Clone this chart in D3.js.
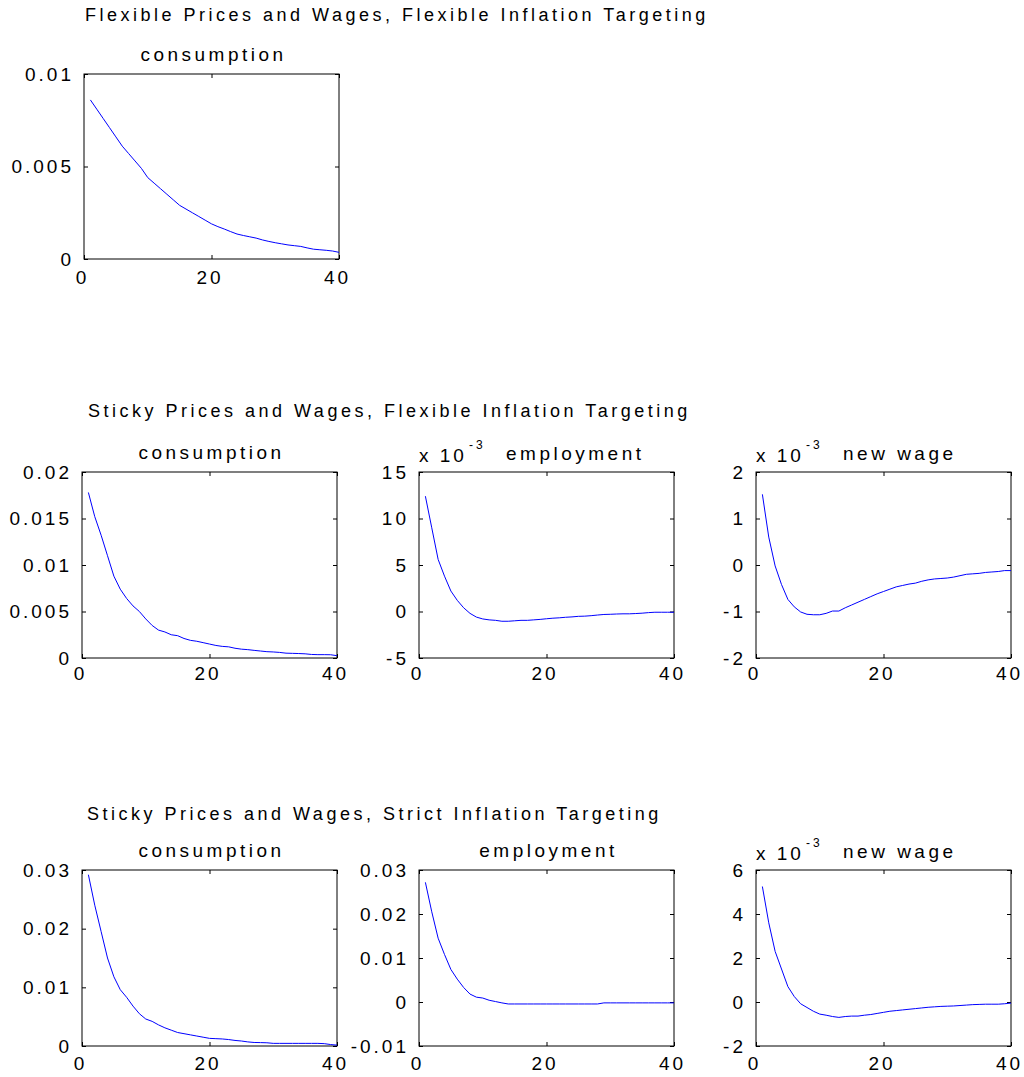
<!DOCTYPE html>
<html>
<head>
<meta charset="utf-8">
<script src="https://cdn.jsdelivr.net/npm/d3@7"></script>
<style>
body { margin: 0; background: #fff; }
text { font-family: "Liberation Sans", Arial, sans-serif; fill: #000; }
</style>
</head>
<body>
<div class="holder"></div>
<script>
// all series in units of 1e-3, periods 1..40
var flexConsumption = [8.6, 8.1, 7.6, 7.1, 6.6, 6.1, 5.7, 5.3, 4.9, 4.4,
    4.1, 3.8, 3.5, 3.2, 2.9, 2.7, 2.5, 2.3, 2.1, 1.9,
    1.75, 1.62, 1.48, 1.35, 1.27, 1.2, 1.13, 1.03, 0.95, 0.88,
    0.82, 0.76, 0.72, 0.68, 0.6, 0.53, 0.5, 0.47, 0.43, 0.36]

var stickyConsumption = [17.8, 15.2, 13.2, 11.0, 8.8, 7.4, 6.4, 5.6, 5.0, 4.2,
    3.5, 3.0, 2.8, 2.5, 2.4, 2.1, 1.9, 1.8, 1.65, 1.5,
    1.35, 1.25, 1.2, 1.05, 0.95, 0.9, 0.82, 0.75, 0.68, 0.65,
    0.6, 0.52, 0.5, 0.48, 0.45, 0.38, 0.36, 0.36, 0.35, 0.25]

var stickyEmployment = [12.4, 9.0, 5.6, 3.8, 2.2, 1.2, 0.4, -0.2, -0.6, -0.8,
    -0.9, -0.95, -1.05, -1.05, -1.0, -0.95, -0.95, -0.9, -0.85, -0.78,
    -0.72, -0.68, -0.62, -0.58, -0.52, -0.5, -0.45, -0.38, -0.32, -0.3,
    -0.27, -0.25, -0.25, -0.22, -0.18, -0.12, -0.08, -0.08, -0.08, -0.08]

var stickyWage = [1.52, 0.6, -0.02, -0.42, -0.74, -0.9, -1.01, -1.06, -1.07, -1.07,
    -1.04, -0.99, -0.99, -0.92, -0.86, -0.8, -0.74, -0.68, -0.62, -0.57,
    -0.52, -0.47, -0.44, -0.41, -0.39, -0.35, -0.32, -0.3, -0.29, -0.28,
    -0.26, -0.23, -0.2, -0.19, -0.18, -0.16, -0.15, -0.14, -0.12, -0.12]

var strictConsumption = [29.2, 24.0, 19.5, 15.0, 11.8, 9.6, 8.3, 6.8, 5.5, 4.6,
    4.2, 3.6, 3.1, 2.7, 2.3, 2.1, 1.9, 1.7, 1.5, 1.3,
    1.25, 1.2, 1.1, 0.95, 0.85, 0.7, 0.6, 0.58, 0.55, 0.45,
    0.45, 0.45, 0.45, 0.45, 0.45, 0.45, 0.45, 0.4, 0.25, 0.15]

var strictEmployment = [27.2, 20.5, 14.5, 10.8, 7.4, 5.2, 3.3, 1.8, 1.1, 0.9,
    0.4, 0.1, -0.2, -0.45, -0.45, -0.45, -0.45, -0.45, -0.45, -0.45,
    -0.45, -0.45, -0.45, -0.45, -0.45, -0.45, -0.45, -0.45, -0.2, -0.2,
    -0.2, -0.2, -0.2, -0.2, -0.2, -0.2, -0.2, -0.2, -0.2, -0.2]

var strictWage = [5.25, 3.6, 2.3, 1.5, 0.7, 0.25, -0.08, -0.25, -0.42, -0.55,
    -0.6, -0.66, -0.7, -0.66, -0.64, -0.64, -0.6, -0.57, -0.52, -0.47,
    -0.42, -0.39, -0.36, -0.33, -0.3, -0.27, -0.24, -0.22, -0.2, -0.19,
    -0.18, -0.16, -0.14, -0.12, -0.11, -0.1, -0.1, -0.1, -0.08, -0.05]

var xTicks = [0, 20, 40]
var xTickLabels = ["0", "20", "40"]

var flexConsTicks = [0, 5, 10]
var flexConsLabels = ["0", "0.005", "0.01"]
var stickyConsTicks = [0, 5, 10, 15, 20]
var stickyConsLabels = ["0", "0.005", "0.01", "0.015", "0.02"]
var stickyEmpTicks = [-5, 0, 5, 10, 15]
var stickyEmpLabels = ["-5", "0", "5", "10", "15"]
var stickyWageTicks = [-2, -1, 0, 1, 2]
var stickyWageLabels = ["-2", "-1", "0", "1", "2"]
var strictConsTicks = [0, 10, 20, 30]
var strictConsLabels = ["0", "0.01", "0.02", "0.03"]
var strictEmpTicks = [-10, 0, 10, 20, 30]
var strictEmpLabels = ["-0.01", "0", "0.01", "0.02", "0.03"]
var strictWageTicks = [-2, 0, 2, 4, 6]
var strictWageLabels = ["-2", "0", "2", "4", "6"]

var rowTitles = [
    "Flexible Prices and Wages, Flexible Inflation Targeting",
    "Sticky Prices and Wages, Flexible Inflation Targeting",
    "Sticky Prices and Wages, Strict Inflation Targeting"
]

var width = 1024,
    height = 1077,
    ls = 3   // letter spacing of tick labels
var cols = [82, 419, 756]

var svg = d3.select(".holder").append("svg")
    .attr("width", width)
    .attr("height", height)

// row supertitles
var rowTitlePos = [[85, 21], [88, 417], [87, 820]]
rowTitles.forEach(function(t, i) {
    svg.append("text")
        .attr("x", rowTitlePos[i][0])
        .attr("y", rowTitlePos[i][1])
        .style("font-size", "18px")
        .style("letter-spacing", "3.5px")
        .text(t)
})

var panels = [
    {x: 84, y: 74, h: 185, pad: 12, title: "consumption", data: flexConsumption, ticks: flexConsTicks, labels: flexConsLabels},
    {x: cols[0], y: 472, h: 186, pad: 9, title: "consumption", data: stickyConsumption, ticks: stickyConsTicks, labels: stickyConsLabels},
    {x: cols[1], y: 472, h: 186, pad: 9, title: "employment", data: stickyEmployment, ticks: stickyEmpTicks, labels: stickyEmpLabels, exp: true},
    {x: cols[2], y: 472, h: 186, pad: 9, title: "new wage", data: stickyWage, ticks: stickyWageTicks, labels: stickyWageLabels, exp: true},
    {x: cols[0], y: 870, h: 176, pad: 11, title: "consumption", data: strictConsumption, ticks: strictConsTicks, labels: strictConsLabels},
    {x: cols[1], y: 870, h: 176, pad: 11, title: "employment", data: strictEmployment, ticks: strictEmpTicks, labels: strictEmpLabels},
    {x: cols[2], y: 870, h: 176, pad: 11, title: "new wage", data: strictWage, ticks: strictWageTicks, labels: strictWageLabels, exp: true}
]

var w = 255

panels.forEach(function(p) {
    var g = svg.append("g").attr("transform", "translate(" + p.x + "," + p.y + ")")

    var x = d3.scaleLinear().domain([0, 40]).range([0, w])
    var y = d3.scaleLinear().domain([p.ticks[0], p.ticks[p.ticks.length - 1]]).range([p.h, 0])

    // inward ticks on all four sides, like matlab
    var bottom = g.append("g").attr("transform", "translate(0," + p.h + ")")
        .call(d3.axisBottom(x).tickValues(xTicks).tickSize(-4).tickSizeOuter(0).tickPadding(p.pad)
            .tickFormat(function(d, i) { return xTickLabels[i] }))
    g.append("g")
        .call(d3.axisTop(x).tickValues(xTicks).tickSize(-4).tickSizeOuter(0).tickFormat(""))
    g.append("g")
        .call(d3.axisLeft(y).tickValues(p.ticks).tickSize(-4).tickSizeOuter(0).tickPadding(10)
            .tickFormat(function(d, i) { return p.labels[i] }))
    g.append("g").attr("transform", "translate(" + w + ",0)")
        .call(d3.axisRight(y).tickValues(p.ticks).tickSize(-4).tickSizeOuter(0).tickFormat(""))

    g.selectAll(".domain").remove()
    g.selectAll(".tick line").attr("stroke", "#000")
    g.selectAll(".tick text")
        .attr("fill", "#000")
        .style("font-family", '"Liberation Sans", Arial, sans-serif')
        .style("font-size", "19px")
        .style("letter-spacing", ls + "px")
    bottom.selectAll(".tick text").attr("dx", -2)

    g.append("rect")
        .attr("width", w)
        .attr("height", p.h)
        .attr("fill", "none")
        .attr("stroke", "#000")
        .attr("stroke-width", 1)

    var line = d3.line()
        .x(function(d, i) { return x(i + 1) })
        .y(function(d) { return y(d) })

    g.append("path")
        .datum(p.data)
        .attr("d", line)
        .attr("fill", "none")
        .attr("stroke", "#0000ff")
        .attr("stroke-width", 1)

    if (p.exp) {
        var e = g.append("text")
            .attr("x", 0)
            .attr("y", -10)
            .style("font-size", "19px")
            .style("letter-spacing", "3px")
        e.append("tspan").text("x 10")
        e.append("tspan")
            .attr("dx", 2)
            .attr("dy", -13)
            .style("font-size", "12px")
            .text("-3")
        g.append("text")
            .attr("x", 87)
            .attr("y", -12)
            .style("font-size", "19px")
            .style("letter-spacing", "3.5px")
            .text(p.title)
    } else {
        g.append("text")
            .attr("x", w / 2 + 2)
            .attr("y", -13)
            .attr("text-anchor", "middle")
            .style("font-size", "19px")
            .style("letter-spacing", "3.5px")
            .text(p.title)
    }
})
</script>
</body>
</html>
